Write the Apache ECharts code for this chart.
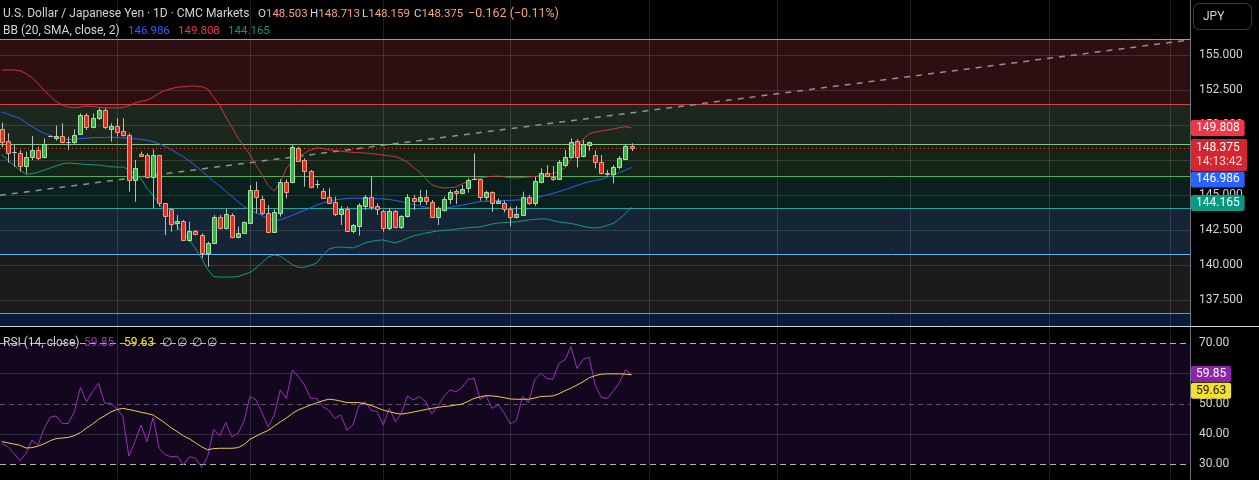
<!DOCTYPE html>
<html><head><meta charset="utf-8">
<script src="https://cdn.jsdelivr.net/npm/echarts@6/dist/echarts.min.js"></script>
<style>html,body{margin:0;padding:0;background:#000;overflow:hidden}#c{width:1259px;height:480px}</style>
</head><body><div id="c"></div><script>
// ---------------- DATA ----------------
const opens = [149.71,148.88,148.12,148.00,147.12,147.76,148.24,147.71,149.21,149.12,
149.21,148.83,148.78,149.35,150.74,149.85,150.50,151.09,149.71,149.95,
149.57,149.31,146.09,147.95,147.88,146.28,147.88,144.42,144.00,143.00,
143.19,141.81,142.42,142.16,140.85,141.57,143.47,142.64,143.59,142.00,
142.28,143.00,145.38,144.74,143.71,142.40,143.76,145.93,145.97,148.35,
147.52,146.73,145.78,145.31,144.85,144.54,143.64,144.02,142.45,142.81,
144.24,144.85,144.24,143.90,142.69,143.90,142.76,143.52,144.83,144.59,
144.85,144.54,143.42,143.95,144.71,145.28,145.14,145.50,146.14,146.14,
144.90,145.24,144.43,144.43,144.05,143.42,143.59,144.90,144.43,145.97,
146.57,146.33,146.19,147.19,147.71,148.88,147.81,148.57,147.88,147.35,
146.62,146.52,147.00,147.62,148.503];
const highs = [150.19,149.43,148.59,148.24,148.12,149.24,148.47,149.07,149.26,149.97,
150.14,149.19,149.71,150.85,150.85,150.85,151.21,151.21,150.14,150.50,
150.50,149.43,147.52,148.12,148.00,148.28,147.88,144.45,144.07,143.59,
143.24,143.12,142.52,142.28,141.69,143.59,143.59,144.02,143.71,142.76,
143.12,145.74,145.97,144.95,144.31,144.00,146.14,146.14,148.59,148.47,
147.64,146.81,146.09,145.50,145.50,144.90,144.24,144.19,142.95,144.43,
145.02,146.33,144.43,143.95,144.07,143.95,143.59,145.09,145.02,145.38,
145.38,144.66,144.19,144.90,145.38,145.43,145.74,146.21,148.00,146.19,
145.33,145.28,144.78,144.62,144.19,144.24,145.26,145.02,146.33,146.93,
147.16,147.09,147.52,148.24,149.07,149.00,148.95,148.83,148.19,147.88,
146.81,147.16,147.81,148.66,148.713];
const lows = [148.43,147.33,147.04,146.69,146.57,147.52,147.52,147.64,149.17,148.90,
148.71,148.24,148.66,149.31,149.66,149.78,150.38,149.71,148.83,149.19,
149.19,145.26,144.54,147.76,146.21,144.07,144.19,142.16,142.40,142.52,
141.76,141.69,142.14,140.50,139.90,141.52,142.57,142.57,141.93,141.93,
142.24,142.95,143.71,143.59,142.38,142.33,143.47,144.78,145.85,147.40,
145.62,145.50,145.50,144.78,144.43,143.52,142.88,142.40,142.28,142.12,
143.95,143.95,143.59,142.40,142.52,142.64,142.59,143.42,143.95,144.31,
144.31,143.40,142.88,143.83,144.38,144.38,145.07,145.19,146.09,144.62,
144.62,143.81,144.38,143.78,142.76,143.35,143.52,144.31,144.24,145.85,
146.28,146.04,146.14,147.05,147.64,147.00,147.71,148.19,146.93,146.50,
146.40,145.85,146.85,147.57,148.159];
const closes = [148.83,148.00,148.12,147.12,147.76,148.24,147.69,148.64,149.21,149.26,
148.78,148.83,149.31,150.74,149.85,150.50,151.09,149.85,149.95,149.54,
149.28,146.09,146.93,147.78,146.28,147.88,144.42,143.52,142.95,143.16,
141.81,142.45,142.21,140.85,141.57,143.47,142.64,143.66,142.00,142.33,
143.09,145.38,144.90,143.71,142.40,143.81,145.95,145.26,148.43,147.47,
146.73,145.62,145.78,144.83,144.47,143.64,144.02,142.45,142.88,144.31,
144.85,144.19,144.00,142.69,143.90,142.76,143.52,144.85,144.59,144.85,
144.59,143.47,144.07,144.74,145.26,145.14,145.43,146.09,146.14,144.90,
145.24,144.43,144.62,144.00,143.42,143.66,144.90,144.47,146.02,146.57,
146.38,146.19,147.40,147.71,148.83,147.76,148.64,148.78,147.35,146.57,
146.50,147.00,147.64,148.55,148.375];
const bbBasis = [150.95,150.8,150.65,150.5,150.2,149.9,149.65,149.43,149.28,149.14,
149.04,148.97,149.0,149.05,149.08,149.12,149.13,149.14,149.14,149.12,
149.1,149.07,149.03,149.0,148.93,148.83,148.68,148.5,148.25,148.0,
147.76,147.45,147.1,146.75,146.38,146.0,145.65,145.3,144.92,144.55,
144.2,143.95,143.75,143.55,143.35,143.18,143.25,143.4,143.57,143.75,
143.92,144.1,144.3,144.45,144.57,144.66,144.72,144.78,144.8,144.8,
144.78,144.77,144.76,144.74,144.7,144.63,144.55,144.45,144.35,144.24,
144.15,144.07,144.06,144.08,144.14,144.22,144.3,144.38,144.47,144.55,
144.58,144.6,144.62,144.63,144.64,144.66,144.68,144.74,144.82,144.92,
145.02,145.13,145.26,145.4,145.55,145.7,145.85,145.97,146.06,146.14,
146.28,146.45,146.62,146.8,146.986];
const bbUpper = [153.95,153.95,153.95,153.9,153.7,153.4,153.0,152.5,152.1,151.7,
151.45,151.3,151.24,151.3,151.38,151.35,151.28,151.24,151.24,151.24,
151.26,151.4,151.6,151.72,151.8,152.0,152.3,152.5,152.62,152.72,
152.76,152.8,152.8,152.76,152.6,152.0,151.45,150.6,149.9,149.1,
148.5,147.88,147.15,146.45,145.7,145.3,145.95,146.9,147.45,147.75,
148.0,148.25,148.38,148.34,148.26,148.2,148.15,148.1,148.07,148.04,
148.02,147.98,147.93,147.88,147.82,147.77,147.6,147.35,147.0,146.66,
146.2,145.75,145.6,145.52,145.55,145.59,145.8,146.0,146.15,146.25,
146.31,146.35,146.38,146.32,146.25,146.24,146.28,146.31,146.35,146.4,
146.45,146.55,146.7,146.95,147.6,148.4,149.0,149.4,149.52,149.6,
149.66,149.74,149.83,149.9,149.808];
const bbLower = [147.9,147.5,147.16,146.8,146.5,146.55,146.65,146.8,146.95,147.1,
147.25,147.31,147.28,147.24,147.2,147.18,147.16,147.1,147.05,147.02,
147.02,146.85,146.45,146.2,145.5,145.0,144.4,143.8,143.3,142.8,
142.3,141.8,141.2,140.5,139.7,139.2,139.16,139.16,139.16,139.2,
139.35,139.5,139.8,140.2,140.6,140.74,140.66,140.35,140.05,139.85,
139.85,140.0,140.16,140.7,141.15,141.28,141.31,141.28,141.24,141.4,
141.6,141.7,141.78,141.81,141.7,141.6,141.75,141.95,142.1,142.2,
142.3,142.38,142.45,142.5,142.52,142.58,142.64,142.68,142.72,142.74,
142.85,142.95,143.02,143.05,143.08,143.1,143.18,143.24,143.28,143.31,
143.31,143.2,143.1,143.05,142.98,142.9,142.78,142.7,142.66,142.72,
142.85,143.0,143.3,143.7,144.165];
const rsi = [36.9,35.8,33.6,31.2,33.6,38.0,36.4,41.9,45.5,46.0,
43.5,43.5,47.4,55.4,50.7,54.0,56.8,50.2,50.2,48.5,
45.8,32.7,37.5,43.0,37.5,45.5,35.3,33.1,32.5,32.7,
29.8,32.5,32.0,29.0,32.5,41.6,39.4,43.8,39.1,40.2,
44.1,52.4,51.3,46.9,42.4,46.3,54.6,51.8,61.2,59.0,
56.2,51.8,51.8,49.1,47.9,45.2,46.3,41.3,43.0,49.6,
50.7,47.9,47.4,43.0,48.5,44.1,46.9,52.6,51.3,52.4,
50.7,46.6,49.1,52.4,54.6,54.0,55.4,58.1,58.4,51.5,
52.6,48.5,49.6,46.9,43.3,44.6,52.4,50.4,57.9,60.1,
58.4,58.1,63.4,64.5,68.9,61.7,64.7,65.4,56.2,52.1,
51.8,54.3,57.0,61.2,59.85];
const rsiMa = [37.5,37.1,36.7,36.3,35.4,35.5,36.0,36.8,37.8,38.5,
38.7,38.9,39.5,40.5,42.0,43.3,44.9,46.0,47.3,48.1,
48.5,48.1,47.7,47.2,46.8,46.3,45.0,43.6,42.0,40.8,
39.4,38.4,37.1,35.8,34.8,35.2,35.3,35.3,35.3,35.5,
36.5,38.3,39.3,40.3,41.2,42.6,44.0,45.3,46.8,48.0,
48.8,49.6,50.3,51.0,51.5,51.3,50.9,50.4,50.4,50.4,
50.0,49.5,48.7,47.9,47.4,46.9,46.6,46.9,47.3,47.7,
48.1,48.5,48.8,49.1,49.3,49.6,49.9,50.8,51.8,52.3,
52.7,52.6,52.4,52.0,51.6,51.5,51.5,51.5,51.9,52.4,
52.5,52.6,53.3,54.3,55.2,56.2,57.3,58.6,59.3,59.8,
59.9,59.9,59.9,59.8,59.63];
const priceTicks = [137.5,140,142.5,145,147.5,150,152.5,155];
const rsiTicks = [30,40,50,60,70];
const levelPrices = [156.14,151.47,148.64,146.36,144.04,140.79,136.57];
const monthStartBars = [19,41,63,84,107,128,150,173,193];
const trendLine = [[-0.3,145.0],[196.2,156.1]];
const countdown = '14:13:42';
const change = '\u22120.162 (\u22120.11%)';

// ---------------- STYLE / LAYOUT ----------------
const FONT = 'Roboto, "Noto Sans", Arial, sans-serif';
const N = closes.length, L = N - 1;
const X_MIN = -0.281, X_MAX = 196.22;
const P_MIN = 135.664, P_MAX = 158.95;
const R_MIN = 24.81, R_MAX = 75.39;
const levelColors = ['#9a9da6','#d8404a','#81c784','#4caf50','#26a69a','#64b5f6','#8a8d96'];
const bandColors = ['#2d0e11','#1c271e','#152416','#0a201c','#152535','#1b1b1b','#0a193c'];
const gridCol = 'rgba(255,255,255,0.13)';
const UP_FILL = '#3cb043', UP_EDGE = '#a6e3a6', DN_FILL = '#dd2e24', DN_EDGE = '#f5a07a', WICK = '#b8bcc4';
const CLEAR = 'rgba(0,0,0,0)';

const pts = arr => arr.map((v, i) => [i, v]);
const fmt3 = p => Number(p.value).toFixed(3);
const fmt2 = p => Number(p.value).toFixed(2);

function tag(value, bg, fg, formatter, offsetY) {
  return {
    yAxis: value,
    lineStyle: {color: CLEAR, width: 1, opacity: 1},
    label: {
      show: true, position: 'end', distance: 1, formatter: formatter,
      backgroundColor: bg, color: fg, padding: [2, 5, 2, 5], borderRadius: 2,
      fontSize: 12, fontFamily: FONT, offset: [0, offsetY]
    }
  };
}

// bands
const bandData = [];
for (let k = 0; k < levelPrices.length; k++) {
  const lo = k + 1 < levelPrices.length ? levelPrices[k + 1] : P_MIN;
  bandData.push([{yAxis: levelPrices[k], itemStyle: {color: bandColors[k]}}, {yAxis: lo}]);
}
const priceLines = [];
priceTicks.forEach(v => priceLines.push({yAxis: v, lineStyle: {color: gridCol, width: 1, type: 'solid'}}));
monthStartBars.forEach(v => priceLines.push({xAxis: v, lineStyle: {color: gridCol, width: 1, type: 'solid'}}));
levelPrices.forEach((v, k) => priceLines.push({yAxis: v, lineStyle: {color: levelColors[k], width: 1, type: 'solid'}}));

const rsiLines = [];
[60, 40].forEach(v => rsiLines.push({yAxis: v, lineStyle: {color: 'rgba(255,255,255,0.14)', width: 1, type: 'solid'}}));
monthStartBars.forEach(v => rsiLines.push({xAxis: v, lineStyle: {color: gridCol, width: 1, type: 'solid'}}));
rsiLines.push({yAxis: 70, lineStyle: {color: '#b2b5be', width: 1, type: [6, 4]}});
rsiLines.push({yAxis: 50, lineStyle: {color: 'rgba(178,181,190,0.45)', width: 1, type: [5, 4]}});
rsiLines.push({yAxis: 30, lineStyle: {color: '#b2b5be', width: 1, type: [6, 4]}});

const candleData = opens.map((o, i) => [i, o, closes[i], lows[i], highs[i]]);

function renderCandle(params, api) {
  const i = api.value(0), o = api.value(1), c = api.value(2), l = api.value(3), h = api.value(4);
  const pO = api.coord([i, o]), pC = api.coord([i, c]), pL = api.coord([i, l]), pH = api.coord([i, h]);
  const x = Math.round(pO[0]) + 0.5;
  let fill, edge;
  if (c > o) { fill = UP_FILL; edge = UP_EDGE; }
  else if (c < o) { fill = DN_FILL; edge = DN_EDGE; }
  else { fill = '#c8cbd2'; edge = '#c8cbd2'; }
  const top = Math.round(Math.min(pO[1], pC[1])) + 0.5;
  const bot = Math.round(Math.max(pO[1], pC[1])) + 0.5;
  return {type: 'group', children: [
    {type: 'line', shape: {x1: x, y1: pH[1], x2: x, y2: pL[1]}, style: {stroke: WICK, lineWidth: 1}},
    {type: 'rect', shape: {x: x - 2, y: top, width: 4, height: Math.max(bot - top, 0)}, style: {fill: fill, stroke: edge, lineWidth: 1}}
  ]};
}

const txt = (x, y, text, fill, size) => ({type: 'text', x: x, y: y, z: 100,
  style: {text: text, fill: fill, font: (size || 12) + 'px ' + FONT, verticalAlign: 'middle', align: 'left'}});
const rich = (x, y, a, b, colB, size) => ({type: 'text', x: x, y: y, z: 100,
  style: {text: '{a|' + a + '}{b|' + b + '}', font: size + 'px ' + FONT, verticalAlign: 'middle',
    rich: {a: {fill: '#d1d4dc', font: size + 'px ' + FONT}, b: {fill: colB, font: size + 'px ' + FONT}}}});
const VAL = '#f7a27d';

const option = {
  backgroundColor: '#000',
  animation: false,
  grid: [
    {left: 0, top: 0, width: 1190, height: 326},
    {left: 0, top: 327, width: 1190, height: 153}
  ],
  xAxis: [
    {type: 'value', gridIndex: 0, min: X_MIN, max: X_MAX, show: false},
    {type: 'value', gridIndex: 1, min: X_MIN, max: X_MAX, show: false}
  ],
  yAxis: [
    {type: 'value', gridIndex: 0, position: 'right', min: P_MIN, max: P_MAX,
      splitLine: {show: false}, axisLine: {show: false}, axisTick: {show: false},
      axisLabel: {customValues: priceTicks, formatter: v => v.toFixed(3), color: '#d1d4dc', fontSize: 12, fontFamily: FONT, margin: 9}},
    {type: 'value', gridIndex: 1, position: 'right', min: R_MIN, max: R_MAX,
      splitLine: {show: false}, axisLine: {show: false}, axisTick: {show: false},
      axisLabel: {customValues: rsiTicks, formatter: v => v.toFixed(2), color: '#d1d4dc', fontSize: 12, fontFamily: FONT, margin: 9}}
  ],
  series: [
    {type: 'line', name: 'bg', xAxisIndex: 0, yAxisIndex: 0, data: [], z: 0, silent: true,
      markArea: {silent: true, z: 0.5, data: bandData},
      markLine: {silent: true, z: 1, symbol: 'none', label: {show: false}, data: priceLines}},
    {type: 'line', name: 'bbLowBase', xAxisIndex: 0, yAxisIndex: 0, stack: 'bb', z: 1.6, silent: true,
      data: pts(bbLower), showSymbol: false, lineStyle: {opacity: 0}},
    {type: 'line', name: 'bbFill', xAxisIndex: 0, yAxisIndex: 0, stack: 'bb', z: 1.6, silent: true,
      data: bbUpper.map((v, i) => [i, v - bbLower[i]]), showSymbol: false, lineStyle: {opacity: 0},
      areaStyle: {color: 'rgba(33,150,243,0.06)'}},
    {type: 'line', name: 'trend', xAxisIndex: 0, yAxisIndex: 0, z: 1.8, silent: true, data: trendLine,
      showSymbol: false, lineStyle: {color: '#8e919a', width: 1.5, type: [6, 6]}},
    {type: 'line', name: 'upper', xAxisIndex: 0, yAxisIndex: 0, z: 2, clip: false, data: pts(bbUpper), showSymbol: false,
      lineStyle: {color: '#d0373f', width: 1},
      markLine: {silent: true, symbol: 'none', z: 6, precision: 3, data: [tag(bbUpper[L], '#f23645', '#fff', fmt3, 0)]}},
    {type: 'line', name: 'basis', xAxisIndex: 0, yAxisIndex: 0, z: 2, clip: false, data: pts(bbBasis), showSymbol: false,
      lineStyle: {color: '#2962ff', width: 1},
      markLine: {silent: true, symbol: 'none', z: 6, precision: 3, data: [tag(bbBasis[L], '#2962ff', '#fff', fmt3, 12)]}},
    {type: 'line', name: 'lower', xAxisIndex: 0, yAxisIndex: 0, z: 2, clip: false, data: pts(bbLower), showSymbol: false,
      lineStyle: {color: '#129a89', width: 1},
      markLine: {silent: true, symbol: 'none', z: 6, precision: 3, data: [tag(bbLower[L], '#089981', '#fff', fmt3, -4)]}},
    {type: 'custom', name: 'candles', xAxisIndex: 0, yAxisIndex: 0, z: 3, clip: false,
      data: candleData, encode: {x: 0, y: [1, 2, 3, 4]}, renderItem: renderCandle,
      markLine: {silent: true, symbol: 'none', z: 2.5, precision: 3, data: [
        {yAxis: closes[L], lineStyle: {color: '#f23645', width: 1, type: [1, 3]},
          label: {show: true, position: 'end', distance: 1, offset: [0, 7],
            formatter: p => '{a|' + Number(p.value).toFixed(3) + '}\n{b|' + countdown + '}',
            backgroundColor: '#d5262f', padding: [2, 5, 2, 5], borderRadius: 2,
            rich: {a: {color: '#fff', fontSize: 12, fontFamily: FONT, lineHeight: 14},
                   b: {color: '#ffd6d6', fontSize: 12, fontFamily: FONT, lineHeight: 14}}}}
      ]}},
    {type: 'line', name: 'rsiBg', xAxisIndex: 1, yAxisIndex: 1, data: [], z: 0, silent: true,
      markArea: {silent: true, z: 0.5, data: [[{yAxis: 70, itemStyle: {color: '#13071f'}}, {yAxis: 30}]]},
      markLine: {silent: true, z: 1, symbol: 'none', label: {show: false}, data: rsiLines}},
    {type: 'line', name: 'rsi', xAxisIndex: 1, yAxisIndex: 1, z: 2, clip: false, data: pts(rsi), showSymbol: false,
      lineStyle: {color: '#9c2fb8', width: 1},
      markLine: {silent: true, symbol: 'none', z: 6, precision: 2, data: [tag(rsi[L], '#8e24aa', '#fff', fmt2, 0)]}},
    {type: 'line', name: 'rsiMa', xAxisIndex: 1, yAxisIndex: 1, z: 2.2, clip: false, data: pts(rsiMa), showSymbol: false,
      lineStyle: {color: '#eccf45', width: 1},
      markLine: {silent: true, symbol: 'none', z: 6, precision: 2, data: [tag(rsiMa[L], '#f5e12c', '#131722', fmt2, 16)]}}
  ],
  graphic: [
    {type: 'line', z: 90, shape: {x1: 1190.5, y1: 0, x2: 1190.5, y2: 480}, style: {stroke: '#6f727c', lineWidth: 1}},
    {type: 'line', z: 90, shape: {x1: 0, y1: 326.5, x2: 1259, y2: 326.5}, style: {stroke: '#d1d4dc', lineWidth: 1}},
    {type: 'rect', z: 90, shape: {x: 1193.5, y: 3.5, width: 58, height: 26, r: 6}, style: {fill: '#000', stroke: '#3a3d45', lineWidth: 1}},
    txt(1203, 17, 'JPY', '#d1d4dc', 12),
    txt(3, 14, 'U.S. Dollar / Japanese Yen \u00b7 1D \u00b7 CMC Markets', '#d1d4dc', 12),
    rich(258, 14, 'O', opens[L].toFixed(3), VAL, 11.5),
    rich(310, 14, 'H', highs[L].toFixed(3), VAL, 11.5),
    rich(362, 14, 'L', lows[L].toFixed(3), VAL, 11.5),
    rich(414, 14, 'C', closes[L].toFixed(3), VAL, 11.5),
    txt(468, 14, change, VAL, 12.5),
    txt(3, 31, 'BB (20, SMA, close, 2)', '#d1d4dc', 12),
    txt(128, 31, bbBasis[L].toFixed(3), '#2962ff', 11.5),
    txt(178, 31, bbUpper[L].toFixed(3), '#f23645', 11.5),
    txt(228, 31, bbLower[L].toFixed(3), '#089981', 11.5),
    txt(3, 343, 'RSI (14, close)', '#d1d4dc', 12),
    txt(84, 343, rsi[L].toFixed(2), '#9c2fb8', 12),
    txt(124, 343, rsiMa[L].toFixed(2), '#f5e12c', 12),
    txt(162, 343, '\u2205', '#d1d4dc', 12),
    txt(177, 343, '\u2205', '#d1d4dc', 12),
    txt(192, 343, '\u2205', '#d1d4dc', 12),
    txt(207, 343, '\u2205', '#d1d4dc', 12)
  ]
};
const chart = echarts.init(document.getElementById('c'), null, {renderer: 'canvas', width: 1259, height: 480});
chart.setOption(option);
</script></body></html>
